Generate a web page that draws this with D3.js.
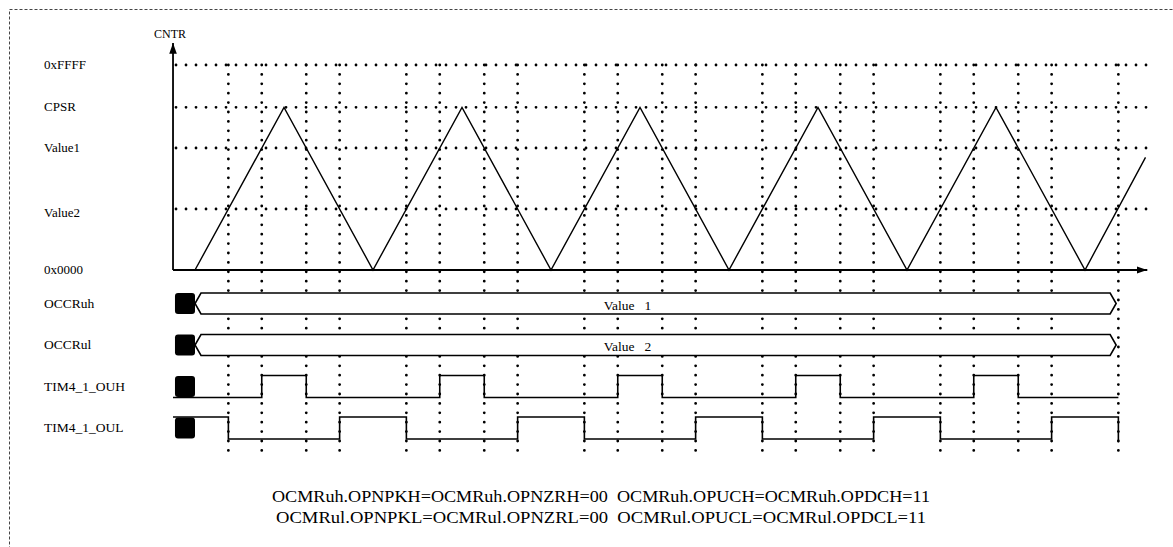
<!DOCTYPE html>
<html>
<head>
<meta charset="utf-8">
<script src="https://cdn.jsdelivr.net/npm/d3@7"></script>
<style>
  body { margin: 0; background: #fff; }
</style>
</head>
<body>
<div id="chart"></div>
<script>
// counter levels (arbitrary 16-bit units) and their names
const levelNames = ["0x0000", "Value2", "Value1", "CPSR", "0xFFFF"];
const levelValues = [0, 19500, 39000, 52000, 65535];

// counter waveform vertices, time in half-periods
const cntrTimes = [0, 1, 2, 3, 4, 5, 6, 7, 8, 9, 10, 10.68];
const cntrValues = [0, 52000, 0, 52000, 0, 52000, 0, 52000, 0, 52000, 0, 36000];

// instants where the counter meets Value2 / Value1 (dotted markers)
const markerTimes = [0.375, 0.75, 1.25, 1.625, 2.375, 2.75, 3.25, 3.625,
  4.375, 4.75, 5.25, 5.625, 6.375, 6.75, 7.25, 7.625,
  8.375, 8.75, 9.25, 9.625, 10.375];

// output signals (level 1 = high)
const ouhTimes = [-0.247, 0.75, 1.25, 2.75, 3.25, 4.75, 5.25, 6.75, 7.25, 8.75, 9.25, 10.375];
const ouhLevels = [0, 1, 0, 1, 0, 1, 0, 1, 0, 1, 0, 0];
const oulTimes = [-0.247, 0.375, 1.625, 2.375, 3.625, 4.375, 5.625, 6.375, 7.625, 8.375, 9.625, 10.375, 10.375];
const oulLevels = [1, 0, 1, 0, 1, 0, 1, 0, 1, 0, 1, 1, -0.15];

const rowNames = ["OCCRuh", "OCCRul", "TIM4_1_OUH", "TIM4_1_OUL"];
const busTexts = ["Value   1", "Value   2"];
const notes = [
  "OCMRuh.OPNPKH=OCMRuh.OPNZRH=00  OCMRuh.OPUCH=OCMRuh.OPDCH=11",
  "OCMRul.OPNPKL=OCMRul.OPNZRL=00  OCMRul.OPUCL=OCMRul.OPDCL=11"
];
const noteWidths = [658, 650];

const W = 1173, H = 547;
const serif = "'Liberation Serif', 'Times New Roman', Times, serif";
const svg = d3.select("#chart").append("svg")
  .attr("width", W).attr("height", H)
  .attr("font-family", serif);

const x = d3.scaleLinear().domain([0, 10]).range([195, 1085]);
const y = d3.scaleLinear().domain([0, 65535]).range([270, 65]);
const row = d3.scalePoint().domain(rowNames).range([303.5, 428]);
const axisT0 = -0.247, axisT1 = 10.7;

// dashed frame
svg.append("rect")
  .attr("x", 9.5).attr("y", 9.5).attr("width", 1200).attr("height", 600)
  .attr("fill", "none").attr("stroke", "#444").attr("stroke-width", 1)
  .attr("stroke-dasharray", "3,2");

const dot = sel => sel.attr("stroke", "#000").attr("stroke-width", 2.8)
  .attr("stroke-linecap", "round").attr("fill", "none");

// horizontal dotted levels
svg.selectAll(".hgrid")
  .data(levelValues.slice(1))
  .enter().append("line")
  .attr("class", "hgrid")
  .attr("x1", x(axisT0) + 3).attr("x2", x(axisT1))
  .attr("y1", d => y(d)).attr("y2", d => y(d))
  .call(dot).attr("stroke-dasharray", "0,10");

// vertical dotted markers
svg.selectAll(".vgrid")
  .data(markerTimes)
  .enter().append("line")
  .attr("class", "vgrid")
  .attr("x1", d => x(d)).attr("x2", d => x(d))
  .attr("y1", y(65535)).attr("y2", 459)
  .call(dot).attr("stroke-dasharray", "0,9.4");

// level labels
svg.selectAll(".lvl")
  .data(levelNames)
  .enter().append("text")
  .attr("x", 44).attr("y", (d, i) => y(levelValues[i]) + (i === 1 ? 8 : 4))
  .attr("font-size", 13).text(d => d);

// axes with arrowheads
svg.append("defs").append("marker")
  .attr("id", "arr").attr("viewBox", "0 0 10 10").attr("refX", 10).attr("refY", 5)
  .attr("markerWidth", 6).attr("markerHeight", 6).attr("orient", "auto")
  .append("path").attr("d", "M0,1.5L10,5L0,8.5Z").attr("fill", "#000");

svg.append("line")
  .attr("x1", x(axisT0)).attr("x2", x(axisT0)).attr("y1", y(0)).attr("y2", 43)
  .attr("stroke", "#000").attr("stroke-width", 1.8).attr("marker-end", "url(#arr)");
svg.append("line")
  .attr("x1", x(axisT0)).attr("x2", x(axisT1)).attr("y1", y(0)).attr("y2", y(0))
  .attr("stroke", "#000").attr("stroke-width", 1.8).attr("marker-end", "url(#arr)");
svg.append("text").attr("x", x(axisT0) - 3).attr("y", 38)
  .attr("text-anchor", "middle").attr("font-size", 12).text("CNTR");

// counter triangle wave
const cntrLine = d3.line().x(d => x(d[0])).y(d => y(d[1]));
svg.append("path")
  .datum(d3.zip(cntrTimes, cntrValues))
  .attr("d", cntrLine)
  .attr("fill", "none").attr("stroke", "#000").attr("stroke-width", 1.4);

// row labels
svg.selectAll(".rowlab")
  .data(rowNames)
  .enter().append("text")
  .attr("x", 44).attr("y", d => row(d) + 4)
  .attr("font-size", 13.5).text(d => d);

// start blobs
svg.selectAll(".blob")
  .data(rowNames)
  .enter().append("rect")
  .attr("x", x(-0.225)).attr("width", x(0) - x(-0.225))
  .attr("y", d => row(d) - 10.5).attr("height", 21)
  .attr("rx", 3).attr("fill", "#000");

// bus rows (white inside hides the dotted markers)
const busEnd = 10.35;
rowNames.slice(0, 2).forEach((r, i) => {
  const c = row(r), h = 10.5, x0 = x(0), x1 = x(busEnd);
  svg.append("path")
    .attr("d", `M${x0 + 6},${c - h}L${x1 - 6},${c - h}L${x1},${c}L${x1 - 6},${c + h}L${x0 + 6},${c + h}L${x0},${c}Z`)
    .attr("fill", "#fff").attr("stroke", "#000").attr("stroke-width", 1.6);
  svg.append("text").attr("x", x(4.86)).attr("y", c + 6)
    .attr("text-anchor", "middle").attr("font-size", 13.5)
    .attr("xml:space", "preserve").style("white-space", "pre")
    .text(busTexts[i]);
});

// digital outputs
const drawSignal = (name, times, levels) => {
  const c = row(name);
  const ly = d3.scaleLinear().domain([0, 1]).range([c + 11, c - 11]);
  svg.append("path")
    .datum(d3.zip(times, levels))
    .attr("d", d3.line().x(d => x(d[0])).y(d => ly(d[1])).curve(d3.curveStepAfter))
    .attr("fill", "none").attr("stroke", "#000").attr("stroke-width", 1.6);
};
drawSignal("TIM4_1_OUH", ouhTimes, ouhLevels);
drawSignal("TIM4_1_OUL", oulTimes, oulLevels);

// register notes
svg.selectAll(".note")
  .data(notes)
  .enter().append("text")
  .attr("x", 601).attr("y", (d, i) => 502 + i * 21)
  .attr("text-anchor", "middle").attr("font-size", 16.5)
  .attr("textLength", (d, i) => noteWidths[i])
  .attr("lengthAdjust", "spacingAndGlyphs")
  .style("white-space", "pre")
  .text(d => d);
</script>
</body>
</html>
